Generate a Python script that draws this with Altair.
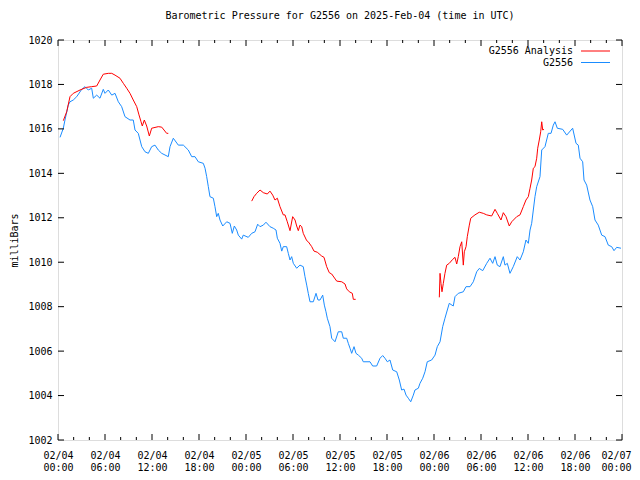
import altair as alt
import pandas as pd

# ---- data (hours since 2025-02-04 00:00 UTC, pressure in mb) ----
blue_h = [0.26, 0.68, 0.89, 1.31, 1.53, 1.95, 2.39, 3.03, 3.45, 3.87, 4.30, 4.51, 4.94, 5.36, 5.78, 6.00,
          6.42, 6.86, 7.28, 7.70, 8.13, 8.55, 9.19, 9.61, 9.83, 10.25, 10.69, 11.11, 11.53, 11.96, 12.38,
          12.80, 13.24, 14.08, 14.30, 14.72, 15.36, 16.00, 16.63, 17.07, 17.49, 17.91, 18.55, 18.77, 18.98,
          19.19, 19.40, 19.83, 20.04, 20.26, 20.46, 20.68, 21.03, 21.54, 21.96, 22.25, 22.51, 22.81, 23.02,
          23.45, 23.65, 24.29, 24.73, 25.15, 25.49, 25.79, 26.21, 26.55, 27.06, 27.48, 27.83, 28.00, 28.34,
          28.56, 28.76, 29.19, 29.40, 29.62, 29.83, 30.04, 30.47, 30.89, 31.31, 31.53, 31.75, 31.95, 32.17,
          32.59, 32.94, 33.19, 33.45, 33.79, 34.00, 34.21, 34.38, 34.72, 34.94, 35.36, 35.78, 36.22, 36.42,
          36.85, 37.06, 37.28, 37.49, 37.79, 38.04, 38.34, 38.77, 38.97, 39.83, 40.17, 40.68, 41.11, 41.45,
          41.74, 42.04, 42.38, 42.73, 43.24, 43.57, 43.87, 44.17, 44.43, 44.72, 45.03, 45.36, 45.57, 46.00,
          46.21, 46.56, 46.85, 47.14, 47.70, 48.13, 48.42, 48.77, 49.11, 49.40, 49.70, 49.95, 50.46, 50.68,
          51.10, 51.74, 52.09, 52.60, 53.02, 53.45, 53.78, 54.22, 54.73, 55.15, 55.49, 55.79, 56.08, 56.42,
          56.85, 57.06, 57.36, 57.70, 58.12, 58.63, 58.98, 59.40, 59.74, 60.04, 60.26, 60.47, 60.68, 60.89,
          61.11, 61.53, 61.75, 62.17, 62.59, 62.94, 63.23, 63.45, 63.74, 64.43, 64.94, 65.70, 66.13, 66.42,
          66.64, 66.98, 67.15, 67.49, 67.91, 68.26, 68.55, 68.97, 69.41, 69.83, 70.25, 70.68, 70.98, 71.32,
          71.87]
blue_p = [1015.62, 1016.03, 1016.40, 1017.07, 1017.22, 1017.30, 1017.45, 1017.78, 1017.90, 1017.75, 1017.83,
          1017.38, 1017.52, 1017.38, 1017.78, 1017.60, 1017.75, 1017.52, 1017.60, 1017.22, 1017.00, 1016.55,
          1016.40, 1016.40, 1015.95, 1015.80, 1015.20, 1014.97, 1014.90, 1015.20, 1015.27, 1015.05, 1014.90,
          1014.75, 1015.20, 1015.58, 1015.27, 1015.27, 1015.05, 1014.75, 1014.75, 1014.52, 1014.45, 1014.23,
          1013.85, 1013.40, 1012.95, 1012.88, 1012.50, 1012.05, 1012.20, 1011.90, 1011.63, 1011.82, 1011.75,
          1011.30, 1011.63, 1011.45, 1011.22, 1011.04, 1011.22, 1011.12, 1011.30, 1011.37, 1011.71, 1011.60,
          1011.67, 1011.80, 1011.60, 1011.53, 1011.45, 1011.08, 1010.85, 1010.50, 1010.70, 1010.70, 1010.40,
          1010.10, 1010.25, 1009.95, 1009.73, 1009.87, 1009.80, 1009.35, 1008.97, 1008.60, 1008.22, 1008.22,
          1008.60, 1008.30, 1008.30, 1008.52, 1008.07, 1007.77, 1007.48, 1007.10, 1006.58, 1006.42, 1006.87,
          1006.87, 1006.58, 1006.58, 1006.35, 1006.13, 1005.90, 1006.20, 1005.90, 1005.82, 1005.68, 1005.52,
          1005.52, 1005.33, 1005.33, 1005.68, 1005.80, 1005.68, 1005.52, 1005.60, 1005.15, 1005.07, 1004.70,
          1004.25, 1004.29, 1004.02, 1003.88, 1003.72, 1004.02, 1004.25, 1004.33, 1004.55, 1004.78, 1005.07,
          1005.52, 1005.60, 1005.82, 1006.20, 1006.42, 1007.10, 1007.48, 1007.85, 1008.15, 1008.03, 1008.45,
          1008.60, 1008.67, 1008.90, 1008.90, 1009.12, 1009.57, 1009.72, 1009.62, 1009.95, 1010.18, 1009.95,
          1010.25, 1009.87, 1009.80, 1010.25, 1009.87, 1009.95, 1009.50, 1009.80, 1010.25, 1010.10, 1010.47,
          1011.00, 1010.85, 1011.45, 1011.75, 1012.35, 1012.95, 1013.40, 1013.85, 1015.05, 1015.20, 1015.80,
          1015.80, 1016.17, 1016.32, 1016.03, 1015.98, 1015.72, 1016.03, 1015.35, 1015.27, 1014.68, 1014.52,
          1013.70, 1013.47, 1012.80, 1012.50, 1011.90, 1011.67, 1011.22, 1011.15, 1010.77, 1010.70, 1010.52,
          1010.67, 1010.63]

red1_h = [0.68, 1.11, 1.53, 1.95, 2.81, 3.66, 4.30, 4.94, 5.36, 5.78, 6.42, 6.86, 7.28, 7.91, 8.34, 8.77,
          9.19, 9.61, 10.05, 10.34, 10.60, 10.76, 11.02, 11.32, 11.66, 11.96, 12.80, 13.24, 13.87, 14.08]
red1_p = [1016.37, 1016.77, 1017.45, 1017.60, 1017.75, 1017.87, 1017.90, 1017.93, 1018.20, 1018.46, 1018.50,
          1018.50, 1018.42, 1018.28, 1018.05, 1017.83, 1017.60, 1017.30, 1017.00, 1016.63, 1016.32, 1016.13,
          1016.40, 1016.13, 1015.68, 1016.03, 1016.10, 1016.08, 1015.80, 1015.80]

red2_h = [24.73, 25.02, 25.36, 25.79, 26.21, 26.72, 27.06, 27.41, 27.70, 28.00, 28.34, 28.76, 28.98, 29.27,
          29.62, 29.96, 30.26, 30.47, 30.68, 30.89, 31.11, 31.31, 31.75, 31.95, 32.39, 32.68, 33.10, 33.66,
          33.96, 34.30, 34.63, 34.94, 35.58, 36.22, 36.64, 36.85, 37.19, 37.57, 37.70, 38.00]
red2_p = [1012.75, 1012.95, 1013.10, 1013.25, 1013.13, 1013.07, 1013.20, 1013.02, 1012.80, 1012.88, 1012.50,
          1012.13, 1012.13, 1011.82, 1011.42, 1012.05, 1011.90, 1011.63, 1011.42, 1011.67, 1011.60, 1011.30,
          1010.97, 1010.92, 1010.70, 1010.50, 1010.45, 1010.28, 1010.22, 1009.80, 1009.53, 1009.47, 1009.15,
          1009.12, 1009.02, 1008.80, 1008.67, 1008.60, 1008.33, 1008.33]

red3_h = [48.68, 48.77, 48.89, 49.02, 49.19, 49.40, 49.62, 49.95, 50.39, 50.68, 50.90, 51.10, 51.32, 51.54,
          51.74, 51.87, 52.09, 52.25, 52.51, 52.69, 53.23, 53.78, 54.29, 54.73, 55.36, 55.79, 56.08, 56.55,
          56.85, 57.19, 57.61, 57.92, 58.56, 58.98, 59.40, 59.74, 60.04, 60.26, 60.47, 60.68, 60.89, 61.11,
          61.24, 61.44, 61.62, 61.75, 61.88, 62.04]
red3_p = [1008.42, 1009.50, 1009.05, 1008.67, 1009.05, 1009.50, 1009.87, 1009.95, 1010.13, 1010.22, 1009.92,
          1010.25, 1010.70, 1010.92, 1009.87, 1010.47, 1010.70, 1011.15, 1011.67, 1011.98, 1012.13, 1012.25,
          1012.20, 1012.13, 1012.08, 1012.38, 1012.20, 1011.90, 1012.23, 1012.05, 1011.63, 1011.82, 1012.05,
          1012.13, 1012.50, 1012.80, 1012.95, 1013.33, 1013.70, 1014.23, 1014.30, 1014.68, 1015.13, 1015.50,
          1015.87, 1016.32, 1015.95, 1015.98]

series_names = ["G2556 Analysis", "G2556"]
series_colors = ["#ff0000", "#1a8cff"]

x_major = list(range(0, 73, 6))
x_minor = [h for h in range(0, 73, 2) if h % 6 != 0]
y_major = list(range(1002, 1021, 2))

FONT = "DejaVu Sans Mono"
W, H = 564, 400

blue_df = pd.DataFrame({"h": blue_h, "p": blue_p})
red_df = pd.concat([
    pd.DataFrame({"h": red1_h, "p": red1_p, "seg": 1}),
    pd.DataFrame({"h": red2_h, "p": red2_p, "seg": 2}),
    pd.DataFrame({"h": red3_h, "p": red3_p, "seg": 3}),
])

xs = alt.Scale(domain=[0, 72], nice=False, zero=False)
ys = alt.Scale(domain=[1002, 1020], nice=False, zero=False)

label_expr = ("['02/0' + (4 + floor(datum.value / 24)), "
              "((datum.value % 24) < 10 ? '0' : '') + (datum.value % 24) + ':00']")

x_axis = alt.Axis(
    values=x_major, labelExpr=label_expr, ticks=False, domain=False, grid=False,
    labelFont=FONT, labelFontSize=10, labelColor="black", labelPadding=10,
    labelLineHeight=12, labelBaseline="top", labelFlush=False, labelOverlap=False, title=None,
    labelAlign={"condition": {"test": "datum.value == 72", "value": "right"}, "value": "center"},
    labelOffset={"condition": {"test": "datum.value == 72", "value": 9}, "value": 0})
y_axis = alt.Axis(
    values=y_major, ticks=False, domain=False, grid=False, format="d",
    labelFont=FONT, labelFontSize=10, labelColor="black", labelPadding=6,
    title="milliBars", titleFont=FONT, titleFontSize=10, titleFontWeight="normal",
    titleColor="black", titleAngle=-90, titleX=-44, titleY=200,
    titleAlign="center", titleBaseline="middle")

X = lambda: alt.X("h:Q", scale=xs, axis=x_axis, title=None)
Y = lambda: alt.Y("p:Q", scale=ys, axis=y_axis, title="milliBars")

blue = alt.Chart(blue_df).mark_line(color=series_colors[1], strokeWidth=1).encode(x=X(), y=Y())

red = alt.Chart(red_df).mark_line(color=series_colors[0], strokeWidth=1).encode(
    x=X(), y=Y(), detail="seg:N")

xmaj_df = pd.DataFrame({"h": x_major})
xmin_df = pd.DataFrame({"h": x_minor})
ymaj_df = pd.DataFrame({"p": y_major})

def xticks(df, y1, y2):
    return alt.Chart(df).mark_rule(color="black", strokeWidth=1).encode(
        x=X(), y=alt.value(y1), y2=alt.value(y2))

def yticks(x1, x2):
    return alt.Chart(ymaj_df).mark_rule(color="black", strokeWidth=1).encode(
        y=Y(), x=alt.value(x1), x2=alt.value(x2))

ticks = [
    xticks(xmaj_df, H, H - 6), xticks(xmaj_df, 0, 6),
    xticks(xmin_df, H, H - 3), xticks(xmin_df, 0, 3),
    yticks(0, 6), yticks(W, W - 6),
]

legend = []
for i, (name, col) in enumerate(zip(series_names, series_colors)):
    yy = 11 + i * 11.5
    legend.append(alt.Chart(pd.DataFrame({"name": [name]})).mark_text(
        align="right", baseline="middle", font=FONT, fontSize=10, color="black").encode(
        x=alt.value(515), y=alt.value(yy), text="name:N"))
    legend.append(alt.Chart(pd.DataFrame({"name": [name]})).mark_rule(
        color=col, strokeWidth=1).encode(
        x=alt.value(523), x2=alt.value(552), y=alt.value(yy)))

chart = alt.layer(blue, red, *ticks, *legend).properties(
    width=W, height=H,
    title=alt.TitleParams("Barometric Pressure for G2556 on 2025-Feb-04 (time in UTC)",
                          font=FONT, fontSize=10, fontWeight="normal", color="black",
                          anchor="middle", offset=14),
    padding={"left": 50, "top": 32, "right": 10, "bottom": 36},
    autosize=alt.AutoSizeParams(type="none"),
).configure_view(stroke="black", strokeWidth=1).configure(background="white")

chart.save("out.html", embed_options={"renderer": "svg", "actions": False})
